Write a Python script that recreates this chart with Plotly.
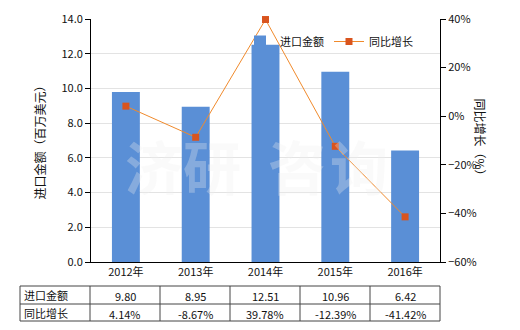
import plotly.graph_objects as go

years = ["2012年", "2013年", "2014年", "2015年", "2016年"]
import_amount = [9.80, 8.95, 12.51, 10.96, 6.42]
yoy_growth = [4.14, -8.67, 39.78, -12.39, -41.42]
amount_labels = ["9.80", "8.95", "12.51", "10.96", "6.42"]
growth_labels = ["4.14%", "-8.67%", "39.78%", "-12.39%", "-41.42%"]
row_names = ["进口金额", "同比增长"]

W, H = 520, 330
FONT = "Noto Sans CJK SC"

def px_x(x):
    return x / W

def px_y(y):
    return 1 - y / H

fig = go.Figure()

fig.add_trace(go.Bar(
    x=years, y=import_amount, name="进口金额",
    marker=dict(color="#5a8fd6", line=dict(width=0)),
    width=0.4, yaxis="y", xaxis="x",
))

fig.add_trace(go.Scatter(
    x=years, y=yoy_growth, name="同比增长",
    mode="lines+markers",
    line=dict(color="#f08a2c", width=1),
    marker=dict(symbol="square", size=7, color="#d9541e"),
    yaxis="y2", xaxis="x", cliponaxis=False,
))

fig.update_layout(
    width=W, height=H,
    margin=dict(l=0, r=0, t=0, b=0, autoexpand=False),
    paper_bgcolor="white", plot_bgcolor="white",
    font=dict(family=FONT, size=11, color="#111111"),
    xaxis=dict(
        domain=[px_x(91), px_x(440)],
        anchor="y",
        type="category",
        range=[-0.5, 4.5],
        showline=True, linecolor="#000000", linewidth=1,
        ticks="", showgrid=False, automargin=False,
        tickfont=dict(family=FONT, size=11, color="#111111"),
    ),
    yaxis=dict(
        domain=[px_y(262), px_y(19)],
        range=[0, 14], dtick=2, tickformat=".1f",
        showline=True, linecolor="#000000", linewidth=1,
        ticks="outside", ticklen=5, tickcolor="#000000",
        showgrid=True, gridcolor="#e3e3e3", gridwidth=1,
        zeroline=False, automargin=False,
        tickfont=dict(family=FONT, size=11, color="#111111"),
    ),
    yaxis2=dict(
        overlaying="y", side="right", anchor="x",
        range=[-60, 40], dtick=20, ticksuffix="%",
        showline=True, linecolor="#000000", linewidth=1,
        ticks="outside", ticklen=5, tickcolor="#000000",
        showgrid=False, zeroline=False, automargin=False,
        tickfont=dict(family=FONT, size=11, color="#111111"),
    ),
    legend=dict(
        orientation="h",
        x=px_x(240), y=px_y(27), xanchor="left", yanchor="top",
        bgcolor="rgba(255,255,255,0)",
        font=dict(family=FONT, size=11, color="#111111"),
        itemwidth=30,
    ),
    showlegend=True,
)

annotations = [
    dict(text="进口金额（百万美元）", x=px_x(28), y=px_y(140), xref="paper", yref="paper",
         textangle=-90, showarrow=False, font=dict(family=FONT, size=12, color="#111111")),
    dict(text="同比增长（%）", x=px_x(491), y=px_y(140), xref="paper", yref="paper",
         textangle=90, showarrow=False, font=dict(family=FONT, size=12, color="#111111")),
]
wm_chars = ["济", "研", "咨", "询"]
wm_x = [124, 212, 297, 389]
for ch, xx in zip(wm_chars, wm_x):
    annotations.append(dict(
        text="<b>" + ch + "</b>", x=px_x(xx), y=px_y(165), xref="paper", yref="paper",
        showarrow=False, borderpad=0,
        font=dict(family=FONT, size=58, color="rgba(240,240,240,0.3)"),
    ))

# data table under the chart (shapes + text)
col_edges = [20, 90, 160, 230, 300, 370, 440]
row_edges = [286, 304, 321]
shapes = []
for yy in row_edges:
    shapes.append(dict(type="line", xref="paper", yref="paper",
                       x0=px_x(col_edges[0]), x1=px_x(col_edges[-1]), y0=px_y(yy), y1=px_y(yy),
                       line=dict(color="#444444", width=1)))
for xx in col_edges:
    shapes.append(dict(type="line", xref="paper", yref="paper",
                       x0=px_x(xx), x1=px_x(xx), y0=px_y(row_edges[0]), y1=px_y(row_edges[-1]),
                       line=dict(color="#444444", width=1)))

rows = [amount_labels, growth_labels]
for r, (name, vals) in enumerate(zip(row_names, rows)):
    yc = (row_edges[r] + row_edges[r + 1]) / 2
    annotations.append(dict(text=name, x=px_x(col_edges[0] + 2), y=px_y(yc), xref="paper", yref="paper",
                            xanchor="left", yanchor="middle", showarrow=False,
                            font=dict(family=FONT, size=11, color="#111111")))
    for c, v in enumerate(vals):
        xc = (col_edges[c + 1] + col_edges[c + 2]) / 2
        annotations.append(dict(text=v, x=px_x(xc), y=px_y(yc + 1), xref="paper", yref="paper",
                                xanchor="center", yanchor="middle", showarrow=False,
                                font=dict(family=FONT, size=11, color="#111111")))

fig.update_layout(annotations=annotations, shapes=shapes)

fig.write_html("out.html")
